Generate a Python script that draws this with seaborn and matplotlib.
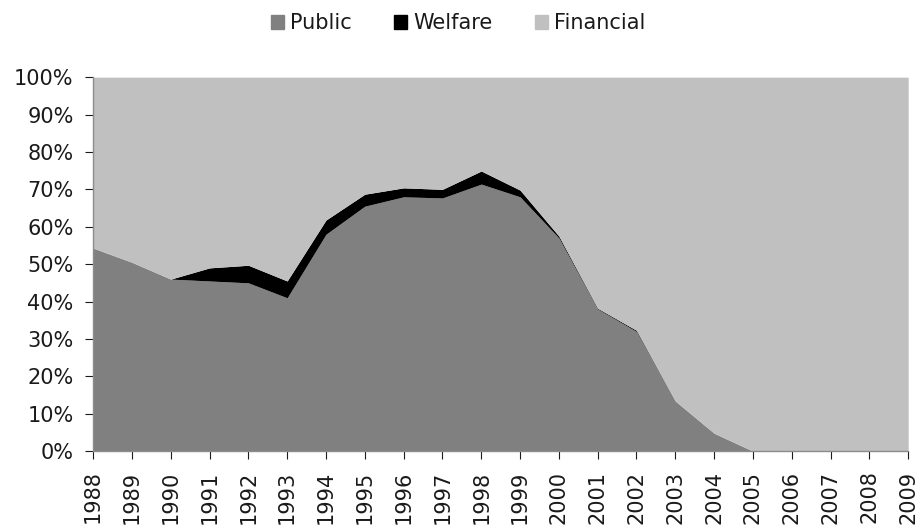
import numpy as np
import matplotlib
matplotlib.use("Agg")
import matplotlib.pyplot as plt
import seaborn as sns
from matplotlib.patches import Patch
from matplotlib.ticker import PercentFormatter

years = list(range(1988, 2010))
public = [54.3, 50.5, 46.0, 45.5, 45.0, 41.0, 58.0, 65.5, 68.0, 67.7, 71.4, 68.0,
          57.0, 38.0, 32.0, 13.4, 4.8, 0, 0, 0, 0, 0]
welfare = [0, 0, 0, 3.5, 4.7, 4.5, 3.8, 3.2, 2.4, 2.3, 3.5, 1.8,
           0.5, 0.2, 0.3, 0, 0, 0, 0, 0, 0, 0]
financial = [100 - p - w for p, w in zip(public, welfare)]

sns.set_theme(style="white")
plt.rcParams['font.family'] = ['DejaVu Sans']

fig = plt.figure(figsize=(9.22, 5.32), dpi=100)
ax = fig.add_axes([0.101, 0.152, 0.884, 0.703])
colors = ["#808080", "#000000", "#c0c0c0"]
ax.stackplot(years, public, welfare, financial, colors=colors, linewidth=0)

ax.set_xlim(1988, 2009)
ax.set_ylim(0, 100)
ax.set_yticks(np.arange(0, 101, 10))
ax.yaxis.set_major_formatter(PercentFormatter(decimals=0))
ax.set_xticks(years)
ax.set_xticklabels([str(y) for y in years], rotation=90)
ax.tick_params(axis="both", labelsize=15, colors="#1a1a1a", length=6,
               direction="out", width=0.8)
ax.tick_params(axis="x", bottom=True, pad=8)
ax.tick_params(axis="y", left=True, pad=8)
for s in ["top", "right"]:
    ax.spines[s].set_visible(False)
for s in ["left", "bottom"]:
    ax.spines[s].set_color("#8c8c8c")
    ax.spines[s].set_linewidth(1.0)
for t in ax.get_xticklines() + ax.get_yticklines():
    t.set_color("#8c8c8c")

handles = [Patch(color=c) for c in colors]
fig.legend(handles, ["Public", "Welfare", "Financial"], loc="upper center",
           bbox_to_anchor=(0.497, 1.01), ncol=3, frameon=False, fontsize=15,
           labelcolor="#1a1a1a", handlelength=0.65, handleheight=0.65,
           handletextpad=0.3, columnspacing=2.0)

fig.savefig("out.png", dpi=100)
